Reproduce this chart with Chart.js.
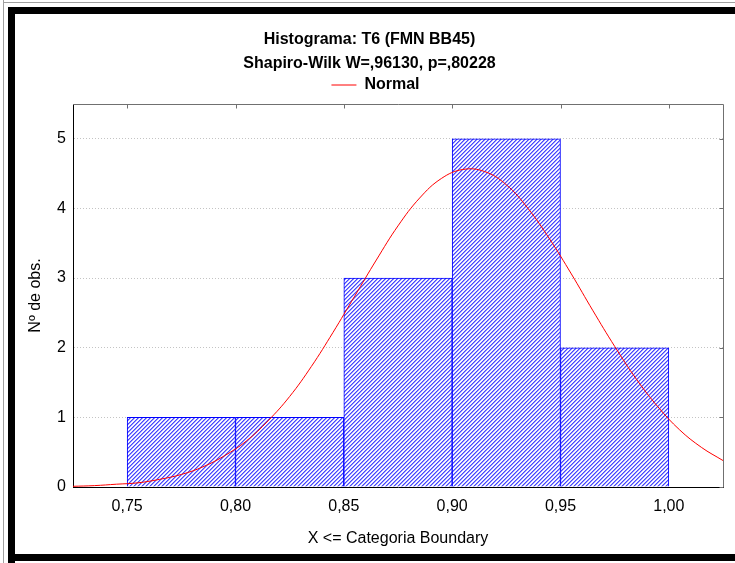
<!DOCTYPE html>
<html>
<head>
<meta charset="utf-8">
<title>Histograma: T6 (FMN BB45)</title>
<script src="https://cdn.jsdelivr.net/npm/chart.js@4.4.1/dist/chart.umd.min.js"></script>
<style>
  html, body { margin: 0; padding: 0; background: #fff; }
</style>
</head>
<body>
<canvas id="hist" width="735" height="563"></canvas>
<script>
// Histogram bins (left edges) and counts
const binStarts = [0.75, 0.80, 0.85, 0.90, 0.95];
const binWidth = 0.05;
const counts = [1, 1, 3, 5, 2];

// Fitted normal curve
const normalX = [0.725, 0.735, 0.745, 0.755, 0.765, 0.775, 0.785, 0.795, 0.805, 0.815,
                 0.825, 0.835, 0.845, 0.855, 0.865, 0.875, 0.885, 0.895, 0.905, 0.915,
                 0.925, 0.935, 0.945, 0.955, 0.965, 0.975, 0.985, 0.995, 1.005, 1.015, 1.025];
const normalY = [0.01, 0.02, 0.04, 0.06, 0.11, 0.18, 0.29, 0.45, 0.66, 0.95,
                 1.30, 1.73, 2.22, 2.74, 3.26, 3.75, 4.15, 4.43, 4.56, 4.53,
                 4.34, 4.00, 3.56, 3.06, 2.53, 2.02, 1.55, 1.15, 0.82, 0.57, 0.38];

// Axis ticks
const xTicks = [0.75, 0.80, 0.85, 0.90, 0.95, 1.00];
const xTickLabels = ['0,75', '0,80', '0,85', '0,90', '0,95', '1,00'];
const yTicks = [0, 1, 2, 3, 4, 5];

(function() {
    'use strict';

    const family = '"Liberation Sans", Arial, Helvetica, sans-serif';
    const font = { family: family, size: 16 };
    const boldFont = { family: family, size: 16, weight: 'bold', lineHeight: 1.5 };

    // Blue "////" hatch fill like the Statistica bars (pixel tile, 4px period)
    function makeHatch() {
        const shades = [[150, 150, 255], [255, 255, 255], [230, 230, 255], [70, 70, 255]];
        const c = document.createElement('canvas');
        c.width = 4;
        c.height = 4;
        const g = c.getContext('2d');
        const img = g.createImageData(4, 4);
        for (let y = 0; y < 4; y++) {
            for (let x = 0; x < 4; x++) {
                const rgb = shades[(x + y) % 4];
                const o = (y * 4 + x) * 4;
                img.data[o] = rgb[0];
                img.data[o + 1] = rgb[1];
                img.data[o + 2] = rgb[2];
                img.data[o + 3] = 255;
            }
        }
        g.putImageData(img, 0, 0);
        return g.createPattern(c, 'repeat');
    }

    // Outer window frame (gray hairline + thick black band)
    const framePlugin = {
        id: 'frame',
        beforeDraw(chart) {
            const c = chart.ctx;
            c.save();
            c.fillStyle = '#fff';
            c.fillRect(0, 0, chart.width, chart.height);
            c.fillStyle = '#a0a0a0';
            c.fillRect(3, 0, 1, chart.height);
            c.fillRect(3, 2, chart.width, 1);
            c.fillStyle = '#000';
            c.fillRect(8, 7, 7, chart.height - 7);
            c.fillRect(8, 7, chart.width, 7);
            c.fillRect(8, 554, chart.width, 7);
            c.restore();
        }
    };

    // Gray top/right box lines with inward tick marks
    const boxPlugin = {
        id: 'box',
        beforeInit(chart) {
            const fit = chart.legend.fit;
            chart.legend.fit = function() {
                fit.call(this);
                this.height = 28;
            };
        },
        afterLayout(chart) {
            // nudge the legend a little to the right, as in the original
            chart.legend.left += 6;
            chart.legend.right += 6;
        },
        afterDraw(chart) {
            const c = chart.ctx;
            const a = chart.chartArea;
            const xs = chart.scales.x;
            const ys = chart.scales.y;
            const top = Math.round(a.top) + 0.5;
            const right = Math.round(a.right) + 0.5;
            c.save();
            c.strokeStyle = '#707070';
            c.lineWidth = 1;
            c.beginPath();
            c.moveTo(a.left, top);
            c.lineTo(right, top);
            c.lineTo(right, a.bottom);
            xTicks.forEach(function(v) {
                const px = Math.round(xs.getPixelForValue(v)) + 0.5;
                c.moveTo(px, top);
                c.lineTo(px, top + 4);
            });
            yTicks.forEach(function(v) {
                const py = Math.round(ys.getPixelForValue(v)) + 0.5;
                c.moveTo(right, py);
                c.lineTo(right - 4, py);
            });
            c.stroke();
            c.restore();
        }
    };

    const ctx = document.getElementById('hist').getContext('2d');
    const hatch = makeHatch();

    new Chart(ctx, {
        type: 'bar',
        data: {
            datasets: [{
                type: 'line',
                label: 'Normal',
                data: normalX.map((x, i) => ({ x: x, y: normalY[i] })),
                borderColor: '#ff0000',
                borderWidth: 1,
                pointRadius: 0,
                tension: 0.4,
                fill: false,
                order: 0
            }, {
                type: 'bar',
                label: 'Obs',
                data: binStarts.map((s, i) => ({ x: s + binWidth / 2, y: counts[i] })),
                backgroundColor: hatch,
                borderColor: '#0000ff',
                borderWidth: 1,
                barPercentage: 1,
                categoryPercentage: 1,
                grouped: false,
                order: 1
            }]
        },
        options: {
            responsive: false,
            animation: false,
            layout: { padding: { left: 16, right: 12, top: 15, bottom: 9 } },
            plugins: {
                title: {
                    display: true,
                    text: ['Histograma: T6 (FMN BB45)', 'Shapiro-Wilk W=,96130, p=,80228'],
                    color: '#000',
                    font: boldFont,
                    padding: { top: 13, bottom: 0 }
                },
                legend: {
                    display: true,
                    position: 'top',
                    labels: {
                        filter: item => item.text === 'Normal',
                        usePointStyle: true,
                        pointStyle: 'line',
                        pointStyleWidth: 25,
                        color: '#000',
                        font: { family: family, size: 16, weight: 'bold' },
                        padding: 1
                    }
                },
                tooltip: { enabled: false }
            },
            scales: {
                x: {
                    type: 'linear',
                    min: 0.725,
                    max: 1.025,
                    offset: false,
                    afterBuildTicks: s => { s.ticks = xTicks.map(v => ({ value: v })); },
                    afterFit: s => { s.height = 67; },
                    grid: { display: false, drawTicks: false },
                    border: { color: '#000', width: 1, z: 1 },
                    ticks: {
                        callback: (v, i) => xTickLabels[i],
                        color: '#000',
                        font: font,
                        padding: 10,
                        maxRotation: 0,
                        autoSkip: false
                    },
                    title: {
                        display: true,
                        text: 'X <= Categoria Boundary',
                        color: '#000',
                        font: font,
                        padding: { top: 0, bottom: 6 }
                    }
                },
                y: {
                    type: 'linear',
                    min: 0,
                    max: 5.5,
                    afterBuildTicks: s => { s.ticks = yTicks.map(v => ({ value: v })); },
                    afterFit: s => { s.width = 57; },
                    grid: {
                        drawTicks: false,
                        color: c => (c.tick && c.tick.value === 0) ? 'rgba(0,0,0,0)' : '#c4c4c4'
                    },
                    border: { color: '#000', width: 1, dash: [1, 2] },
                    ticks: {
                        callback: v => String(v),
                        color: '#000',
                        font: font,
                        padding: 7
                    },
                    title: {
                        display: true,
                        text: 'Nº de obs.',
                        color: '#000',
                        font: font,
                        padding: { top: 10, bottom: 0 }
                    }
                }
            }
        },
        plugins: [framePlugin, boxPlugin]
    });
})();
</script>
</body>
</html>
